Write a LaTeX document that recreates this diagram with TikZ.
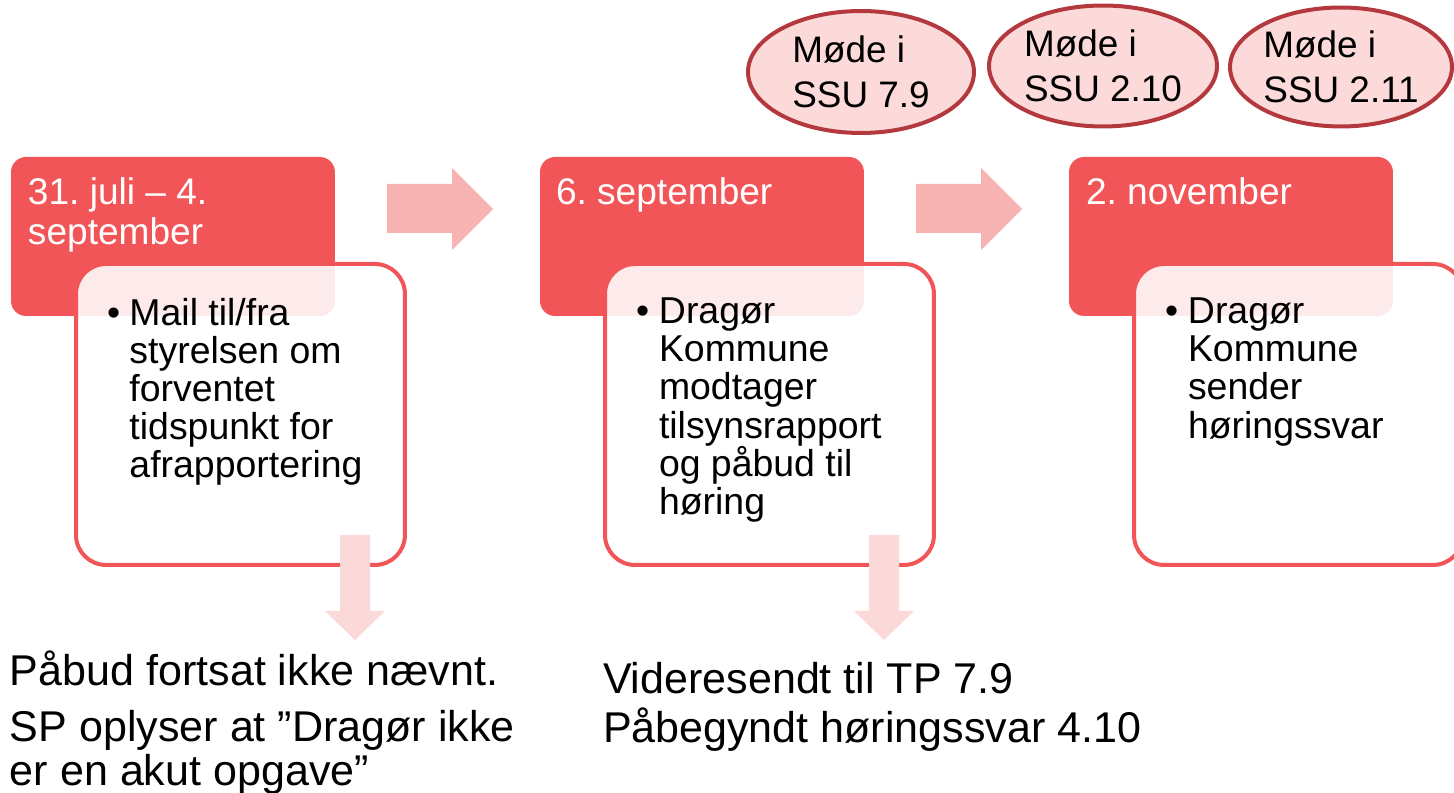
\documentclass[tikz,border=0pt]{standalone}
\usepackage{fontspec}
\setmainfont{Liberation Sans}
\usepackage{tikz}
\usetikzlibrary{shapes.geometric}
\usepackage{xcolor}
\frenchspacing

\definecolor{dato}{RGB}{242,85,87}
\definecolor{pilhoejre}{RGB}{247,178,178}
\definecolor{pilned}{RGB}{252,217,217}
\definecolor{modefyld}{RGB}{252,218,218}
\definecolor{moderand}{RGB}{180,57,62}

\begin{document}
\begin{tikzpicture}[x=0.02cm, y=-0.02cm,
    every node/.style={inner sep=0pt, outer sep=0pt},
    datoboks/.style={fill=dato, rounded corners=0.3cm, minimum width=6.48cm, minimum height=3.18cm, anchor=north west},
    punktboks/.style={draw=dato, line width=0.08cm, fill=white, fill opacity=0.88, rounded corners=0.6cm, minimum width=6.58cm, minimum height=6.02cm, anchor=north west},
    datotekst/.style={anchor=north west, align=left, text=white, font=\fontsize{21.1}{22.7}\selectfont},
    punkttekst/.style={anchor=north west, font=\fontsize{21.3}{21.7}\selectfont},
    mode/.style={ellipse, draw=moderand, line width=0.08cm, fill=modefyld, inner sep=-3pt, minimum width=4.52cm, minimum height=2.44cm, align=left, font=\fontsize{21}{25.5}\selectfont},
    note/.style={anchor=north west, align=left, font=\fontsize{24.5}{24.9}\selectfont}]
    \useasboundingbox (0,0) rectangle (1454,793);

    % Dates
    \node[datoboks] (dato1) at (11,157) {};
    \node[datoboks] (dato2) at (540,157) {};
    \node[datoboks] (dato3) at (1069,157) {};
    \node[datotekst] (datotekst1) at (28,178) {31. juli – 4.\\september};
    \node[datotekst] (datotekst2) at (556,178) {6. september};
    \node[datotekst] (datotekst3) at (1086,178) {2. november};

    % Boxes with bullets
    \node[punktboks] (punkt1) at (76,264) {};
    \node[punktboks] (punkt2) at (605,264) {};
    \node[punktboks] (punkt3) at (1134,264) {};

    % Arrows
    \fill[pilhoejre] (387,184) -- (452,184) -- (452,168) -- (493,209) -- (452,250) -- (452,233) -- (387,233) -- cycle;
    \fill[pilhoejre] (916,184) -- (981,184) -- (981,168) -- (1022,209) -- (981,250) -- (981,233) -- (916,233) -- cycle;
    \fill[pilned] (340,535) -- (370,535) -- (370,611) -- (385,611) -- (355,640) -- (325,611) -- (340,611) -- cycle;
    \fill[pilned] (869,535) -- (899,535) -- (899,611) -- (914,611) -- (884,640) -- (854,611) -- (869,611) -- cycle;

    \node[punkttekst] (tekst1) at (107,298) {\makebox[0.45cm][l]{•}\parbox[t]{6cm}{Mail til/fra\\styrelsen om\\forventet\\tidspunkt for\\afrapportering}};
    \node[punkttekst] (tekst2) at (636,298) {\makebox[0.46cm][l]{•}\parbox[t]{6cm}{Dragør\\Kommune\\modtager\\tilsynsrapport\\og påbud til\\høring}};
    \node[punkttekst] (tekst3) at (1165,298) {\makebox[0.46cm][l]{•}\parbox[t]{6cm}{Dragør\\Kommune\\sender\\høringssvar}};

    % Meetings
    \node[mode] (mode1) at (861,72) {Møde i\\SSU 7.9};
    \node[mode, minimum width=4.56cm, minimum height=2.42cm] (mode2) at (1103,66) {Møde i\\SSU 2.10};
    \node[mode, minimum width=4.44cm, minimum height=2.38cm] (mode3) at (1341,67) {Møde i\\SSU 2.11};

    % Notes
    \node[note] (note1) at (10,651) {Påbud fortsat ikke nævnt.\\[6.8pt]SP oplyser at ”Dragør ikke\\er en akut opgave”};
    \node[note] (note2) at (603,662) {Videresendt til TP 7.9\\[3.4pt]Påbegyndt høringssvar 4.10};

\end{tikzpicture}
\end{document}
